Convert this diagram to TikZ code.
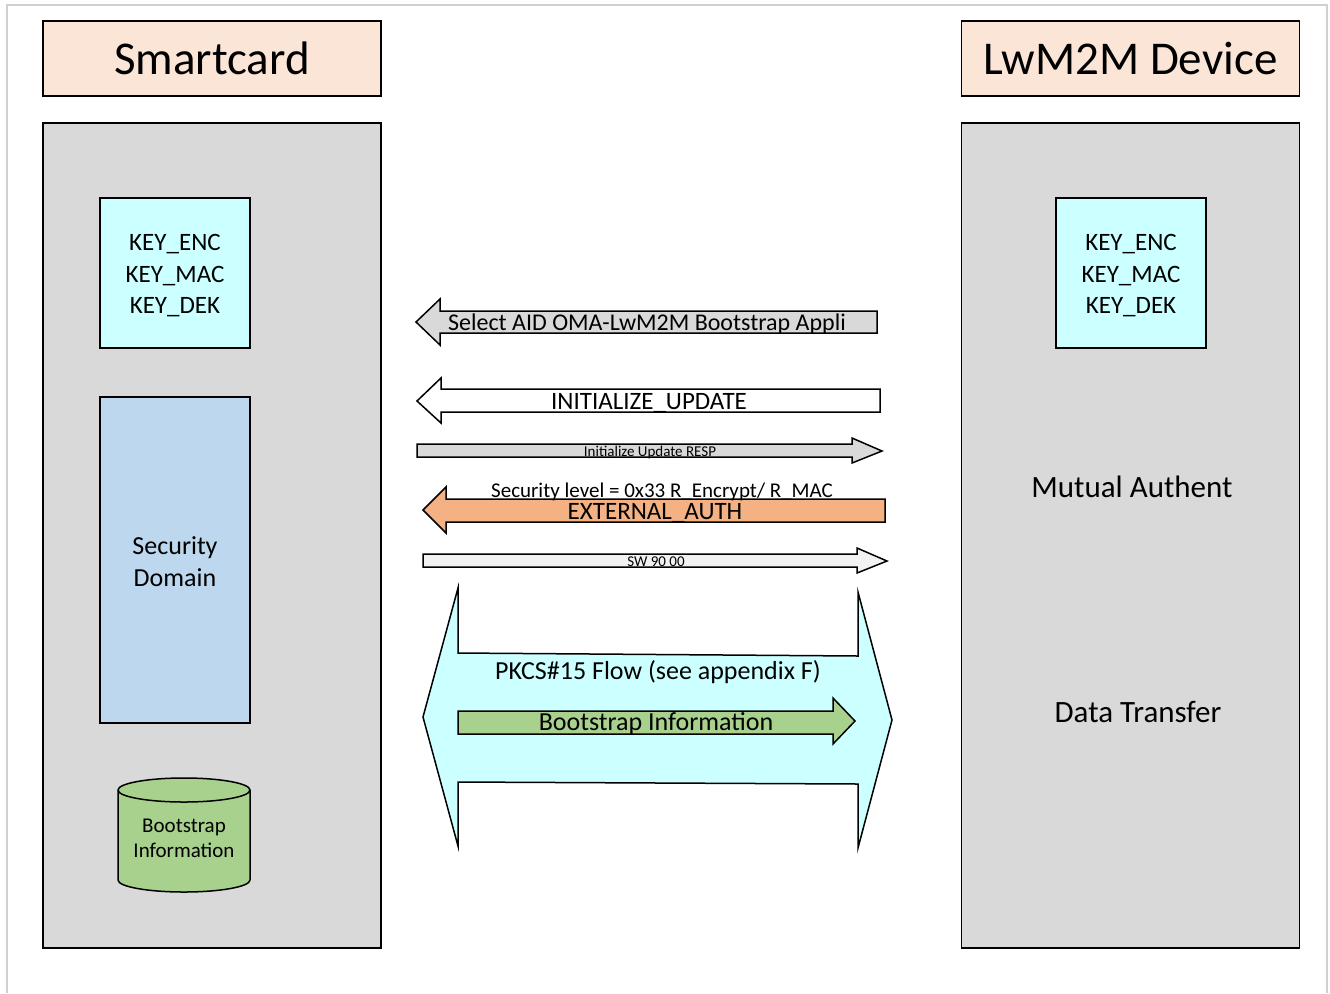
\documentclass[tikz,border=0pt]{standalone}
\usepackage{fontspec}
\setmainfont{Carlito}
\usepackage{xcolor}
\usepackage{tikz}
\usetikzlibrary{positioning}

\definecolor{peach}{HTML}{FBE5D6}
\definecolor{panelgray}{HTML}{D9D9D9}
\definecolor{keycyan}{HTML}{CCFFFF}
\definecolor{sdblue}{HTML}{BDD7EE}
\definecolor{bsgreen}{HTML}{A9D18E}
\definecolor{authorange}{HTML}{F4B183}
\definecolor{swgray}{HTML}{F2F2F2}
\definecolor{framegray}{HTML}{D0D0D0}

\begin{document}
\begin{tikzpicture}[
    x=0.5pt, y=-0.5pt,
    header/.style={rectangle, draw, line width=0.75pt, fill=peach, minimum width=169pt, minimum height=37.5pt, font=\fontsize{23.5}{28}\selectfont},
    panel/.style={rectangle, draw, line width=0.75pt, fill=panelgray, minimum width=169pt, minimum height=412.5pt},
    keys/.style={rectangle, draw, line width=0.75pt, fill=keycyan, minimum width=75pt, minimum height=75pt},
    keytext/.style={align=center, font=\fontsize{12.5}{15.75}\selectfont},
    blockarrow/.style={draw, line width=0.75pt, line join=miter},
    msg/.style={inner sep=0pt, font=\fontsize{12.5}{15}\selectfont},
    tinymsg/.style={inner sep=0pt, font=\fontsize{7.5}{9}\selectfont}
]
    \useasboundingbox (0,0) rectangle (1330,993);
    \draw[framegray, line width=1pt] (7,993) -- (7,5) -- (1327,5) -- (1327,993);

    % Headers
    \node[header] (card) at (212,58.5) {Smartcard};
    \node[header] (device) at (1130.5,58.5) {LwM2M Device};

    % Panels
    \node[panel] (cardpanel) at (212,535.5) {};
    \node[panel] (devpanel) at (1130.5,535.5) {};

    % Smartcard contents
    \node[keys] (cardkeys) at (175,273) {};
    \node[keytext] (cardkeytext) at (175,276) {KEY\_ENC\\KEY\_MAC\\KEY\_DEK};
    \node[rectangle, draw, line width=0.75pt, fill=sdblue, minimum width=75pt, minimum height=163pt] (secdom) at (175,560) {};
    \node[align=center, font=\fontsize{13}{16}\selectfont] (secdomtext) at (175,562) {Security\\Domain};
    \draw[line width=0.75pt, fill=bsgreen] (118,790) -- (118,880)
        arc[start angle=180, end angle=360, x radius=33pt, y radius=6pt] -- (250,790)
        arc[start angle=0, end angle=180, x radius=33pt, y radius=6pt] -- cycle;
    \draw[line width=0.75pt] (118,790) arc[start angle=180, end angle=360, x radius=33pt, y radius=6pt];
    \node[align=center, font=\fontsize{10.5}{12.5}\selectfont] (bsdata) at (184,838) {Bootstrap\\Information};

    % Device contents
    \node[keys] (devkeys) at (1131,273) {};
    \node[keytext] (devkeytext) at (1131,276) {KEY\_ENC\\KEY\_MAC\\KEY\_DEK};
    \node[font=\fontsize{15.5}{18}\selectfont] (mutual) at (1132,487) {Mutual Authent};
    \node[font=\fontsize{15.5}{18}\selectfont] (transfer) at (1138,712) {Data Transfer};

    % Commands
    \draw[blockarrow, fill=panelgray] (416,322) -- (440,299) -- (440,311) -- (877,311) -- (877,333) -- (440,333) -- (440,345) -- cycle;
    \node[msg, font=\fontsize{12}{14}\selectfont] (select) at (647,324) {Select AID OMA-LwM2M Bootstrap Appli};

    \draw[blockarrow, fill=white] (417,401) -- (441,378) -- (441,389) -- (880,389) -- (880,412) -- (441,412) -- (441,423) -- cycle;
    \node[msg] (initupd) at (649,403) {INITIALIZE\_UPDATE};

    \draw[blockarrow, fill=panelgray] (417,444) -- (852,444) -- (852,438) -- (882,451) -- (852,463) -- (852,457) -- (417,457) -- cycle;
    \node[tinymsg] (initresp) at (650,452) {Initialize Update RESP};

    \draw[blockarrow, fill=authorange] (423,510) -- (446,487) -- (446,499) -- (885,499) -- (885,522) -- (446,522) -- (446,533) -- cycle;
    \node[msg, font=\fontsize{10.5}{12}\selectfont] (seclevel) at (662,492) {Security level = 0x33 R\_Encrypt/ R\_MAC};
    \node[msg] (extauth) at (655,513) {EXTERNAL\_AUTH};

    \draw[blockarrow, fill=swgray] (423,554) -- (857,554) -- (857,548) -- (887,561) -- (857,573) -- (857,567) -- (423,567) -- cycle;
    \node[tinymsg] (sw) at (656,562) {SW 90 00};

    % PKCS#15 exchange
    \draw[blockarrow, fill=keycyan] (423,717) -- (458,588) -- (458,653) -- (858,656) -- (858,592) -- (892,720)
        -- (858,848) -- (858,784) -- (458,782) -- (458,846) -- cycle;
    \node[msg, font=\fontsize{13}{15}\selectfont] (pkcs) at (658,672) {PKCS\#15 Flow (see appendix F)};

    \draw[blockarrow, fill=bsgreen] (458,711) -- (833,711) -- (833,698) -- (855,721) -- (833,744) -- (833,734) -- (458,734) -- cycle;
    \node[msg, font=\fontsize{13}{15}\selectfont] (bsinfo) at (656,724) {Bootstrap Information};
\end{tikzpicture}
\end{document}
